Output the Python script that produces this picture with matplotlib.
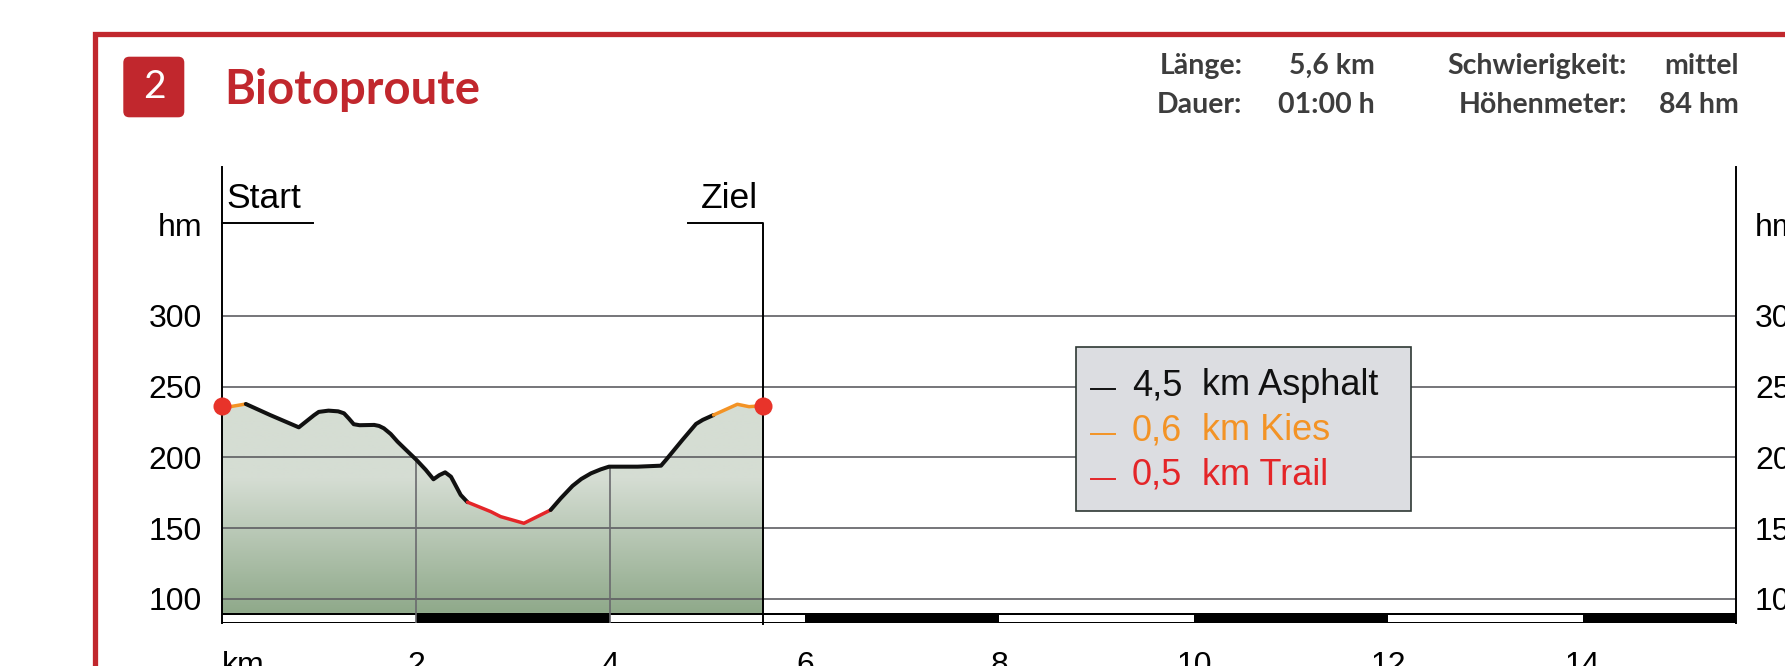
import numpy as np
import matplotlib
matplotlib.use("Agg")
import matplotlib.pyplot as plt
from matplotlib.patches import Rectangle, FancyBboxPatch, Polygon
from matplotlib.lines import Line2D

plt.rcParams['font.family'] = ['Liberation Sans', 'DejaVu Sans']

# elevation profile of the route (km, hm)
dist_km = [0.0, 0.08, 0.25, 0.5, 0.795, 0.95, 1.0, 1.1, 1.2, 1.26, 1.31, 1.36, 1.42,
           1.57, 1.62, 1.67, 1.74, 1.81, 1.9, 2.006, 2.1, 2.18, 2.24, 2.30, 2.36,
           2.46, 2.53, 2.77, 2.87, 3.11, 3.385, 3.49, 3.61, 3.7, 3.80, 3.9, 3.985,
           4.28, 4.52, 4.57, 4.74, 4.88, 4.95, 5.06, 5.305, 5.425, 5.57]
elev_hm = [236.6, 235.8, 237.8, 230.0, 221.3, 229.8, 232.2, 233.1, 232.6, 231.2, 227.5, 223.5, 222.8,
           223.0, 222.3, 220.6, 216.6, 211.2, 205.2, 198.2, 191.3, 184.6, 187.5, 189.5, 186.4,
           173.5, 168.4, 161.7, 158.2, 153.5, 162.9, 171.2, 179.9, 184.8, 188.8, 191.6, 193.5,
           193.5, 194.2, 198.2, 212.4, 223.7, 226.6, 230.0, 237.6, 235.9, 236.6]

# surface along the route: section end (km) and surface type
section_end = [0.25, 2.53, 3.385, 5.06, 5.57]
section_surface = ["Kies", "Asphalt", "Trail", "Asphalt", "Kies"]

surfaces = ["Asphalt", "Kies", "Trail"]
surface_km = ["4,5", "0,6", "0,5"]
surface_color = {"Asphalt": "#111111", "Kies": "#f39325", "Trail": "#e42528"}

y_ticks = [100, 150, 200, 250, 300]
x_ticks = [2, 4, 6, 8, 10, 12, 14]

route_no = "2"
route_name = "Biotoproute"
info_labels = [["Länge:", "Dauer:"], ["Schwierigkeit:", "Höhenmeter:"]]
info_values = [["5,6 km", "01:00 h"], ["mittel", "84 hm"]]

RED = "#c1272d"
GRID = "#5e5e62"

W, H = 1785, 666
fig = plt.figure(figsize=(W / 100, H / 100), dpi=100)
inch = fig.dpi_scale_trans


def P(x, y):
    # pixel position (from top left) -> inches for dpi_scale_trans
    return x / 100, (H - y) / 100


# red frame and header
fig.add_artist(Rectangle(P(94.7, 900), (W + 50) / 100, (900 - 33.5) / 100, transform=inch,
                         fill=False, edgecolor=RED, lw=3.8))
fig.add_artist(FancyBboxPatch(P(123.3, 117.3), 0.61, 0.606, transform=inch,
                              boxstyle="round,pad=0,rounding_size=0.06",
                              facecolor=RED, edgecolor="none"))
fig.text(*P(154, 87.5), route_no, transform=inch, color="white", fontsize=28,
         family="Lato", ha="center", va="center")
fig.text(*P(224, 104), route_name, transform=inch, color=RED, fontsize=34,
         family="Lato", weight="bold", ha="left", va="baseline")

col_right = [(1242.5, 1374.5), (1627, 1738.5)]
for c in range(2):
    for r, base_y in enumerate([74.3, 112.6]):
        fig.text(*P(col_right[c][0], base_y), info_labels[c][r], transform=inch,
                 color="#3d3d3d", fontsize=20.5, family="Lato", weight="bold",
                 ha="right", va="baseline")
        fig.text(*P(col_right[c][1], base_y), info_values[c][r], transform=inch,
                 color="#3d3d3d", fontsize=20.5, family="Lato", weight="bold",
                 ha="right", va="baseline")

# chart
ax_l, ax_r, ax_t, ax_b = 221.5, 1735.5, 166.7, 623.3
ax = fig.add_axes([ax_l / W, (H - ax_b) / H, (ax_r - ax_l) / W, (ax_b - ax_t) / H])
x_max = 15.57
y_min, y_max = 82.8, 405.5
bar_top = 90.1

d = np.array(dist_km)
e = np.array(elev_hm)

# gradient fill under the profile
top_c = np.array([0xd5, 0xdd, 0xd3]) / 255
bot_c = np.array([0x8f, 0xa9, 0x8a]) / 255
ys = np.linspace(bar_top, e.max(), 400)
t = np.clip((ys - bar_top) / (185 - bar_top), 0, 1)
grad = bot_c + (top_c - bot_c) * t[:, None]
img = ax.imshow(grad[:, None, :], extent=[0, d[-1], bar_top, e.max()], origin="lower",
                aspect="auto", zorder=1, interpolation="bilinear")
clip = Polygon(np.column_stack([np.r_[0, d, d[-1]], np.r_[bar_top, e, bar_top]]),
               closed=True, facecolor="none", edgecolor="none")
ax.add_patch(clip)
img.set_clip_path(clip)

for y in y_ticks:
    ax.axhline(y, color=GRID, lw=1.2, zorder=2)

# distance scale bar
ax.add_patch(Rectangle((0, y_min), x_max, bar_top - y_min, facecolor="black",
                       edgecolor="none", zorder=2))
for k in x_ticks[::2]:
    x0 = k - 2
    ax.add_patch(Rectangle((x0, y_min + 1.0), 2, bar_top - y_min - 2.3, facecolor="white",
                           edgecolor="none", zorder=2.1))

for x in x_ticks:
    if x < d[-1]:
        ax.plot([x, x], [y_min, np.interp(x, d, e)], color="#6a6a6e", lw=1.2, zorder=2.3)

# profile line by surface
start = 0.0
for end, surf in zip(section_end, section_surface):
    m = (d >= start - 1e-9) & (d <= end + 1e-9)
    ax.plot(d[m], e[m], color=surface_color[surf], lw=2.9 if surf == "Asphalt" else 2.5,
            solid_joinstyle="round", solid_capstyle="round", zorder=3)
    start = end

ax.plot([d[0], d[-1]], [e[0], e[-1]], "o", color="#e8332a", ms=13, mec="none",
        zorder=4, clip_on=False)

# start / finish markers
flag_y = 365.9
ax.plot([0, 0.945], [flag_y, flag_y], color="black", lw=1.4, zorder=3, clip_on=False)
ax.plot([d[-1] - 0.775, d[-1], d[-1]], [flag_y, flag_y, y_min - 0.5], color="black",
        lw=1.4, zorder=3, clip_on=False)
ax.text(0.05, 376.1, "Start", fontsize=25.5, ha="left", va="baseline")
ax.text(d[-1] - 0.05, 376.1, "Ziel", fontsize=25.5, ha="right", va="baseline")

ax.set_xlim(0, x_max)
ax.set_ylim(y_min, y_max)
ax.set_yticks(y_ticks)
ax.set_xticks(x_ticks)
ax.tick_params(axis="y", length=0, pad=14, labelsize=23, left=True, right=True,
               labelleft=True, labelright=True)
ax.tick_params(axis="x", length=0, pad=20, labelsize=23)
for s in ["top", "bottom"]:
    ax.spines[s].set_visible(False)
for s in ["left", "right"]:
    ax.spines[s].set_linewidth(1.4)
    ax.spines[s].set_color("black")
ax.patch.set_alpha(0)

ax.annotate("km", xy=(0, 0), xycoords="axes fraction", xytext=(0, -20),
            textcoords="offset points", ha="left", va="top", fontsize=23)
ax.annotate("hm", xy=(0, 364.3), xycoords=("axes fraction", "data"), xytext=(-14, 0),
            textcoords="offset points", ha="right", va="center_baseline", fontsize=23)
ax.annotate("hm", xy=(1, 364.3), xycoords=("axes fraction", "data"), xytext=(14, 0),
            textcoords="offset points", ha="left", va="center_baseline", fontsize=23,
            annotation_clip=False)

# surface legend box
fig.add_artist(Rectangle(P(1076, 510.7), (1410.7 - 1076) / 100, (510.7 - 346.7) / 100,
                         transform=inch, facecolor="#dcdde1", edgecolor="#2d3833", lw=1.2))
for i, (surf, km) in enumerate(zip(surfaces, surface_km)):
    base_y = 395.3 + i * 44.75
    col = surface_color[surf]
    fig.add_artist(Line2D([1090.7 / 100, 1115 / 100], [(H - base_y + 6) / 100] * 2,
                          transform=inch, color=col, lw=1.4))
    fig.text(*P(1131.7, base_y), km, transform=inch, color=col, fontsize=26,
             ha="left", va="baseline")
    fig.text(*P(1201.7, base_y), "km " + surf, transform=inch, color=col, fontsize=26,
             ha="left", va="baseline")

fig.savefig("out.png", dpi=100)
